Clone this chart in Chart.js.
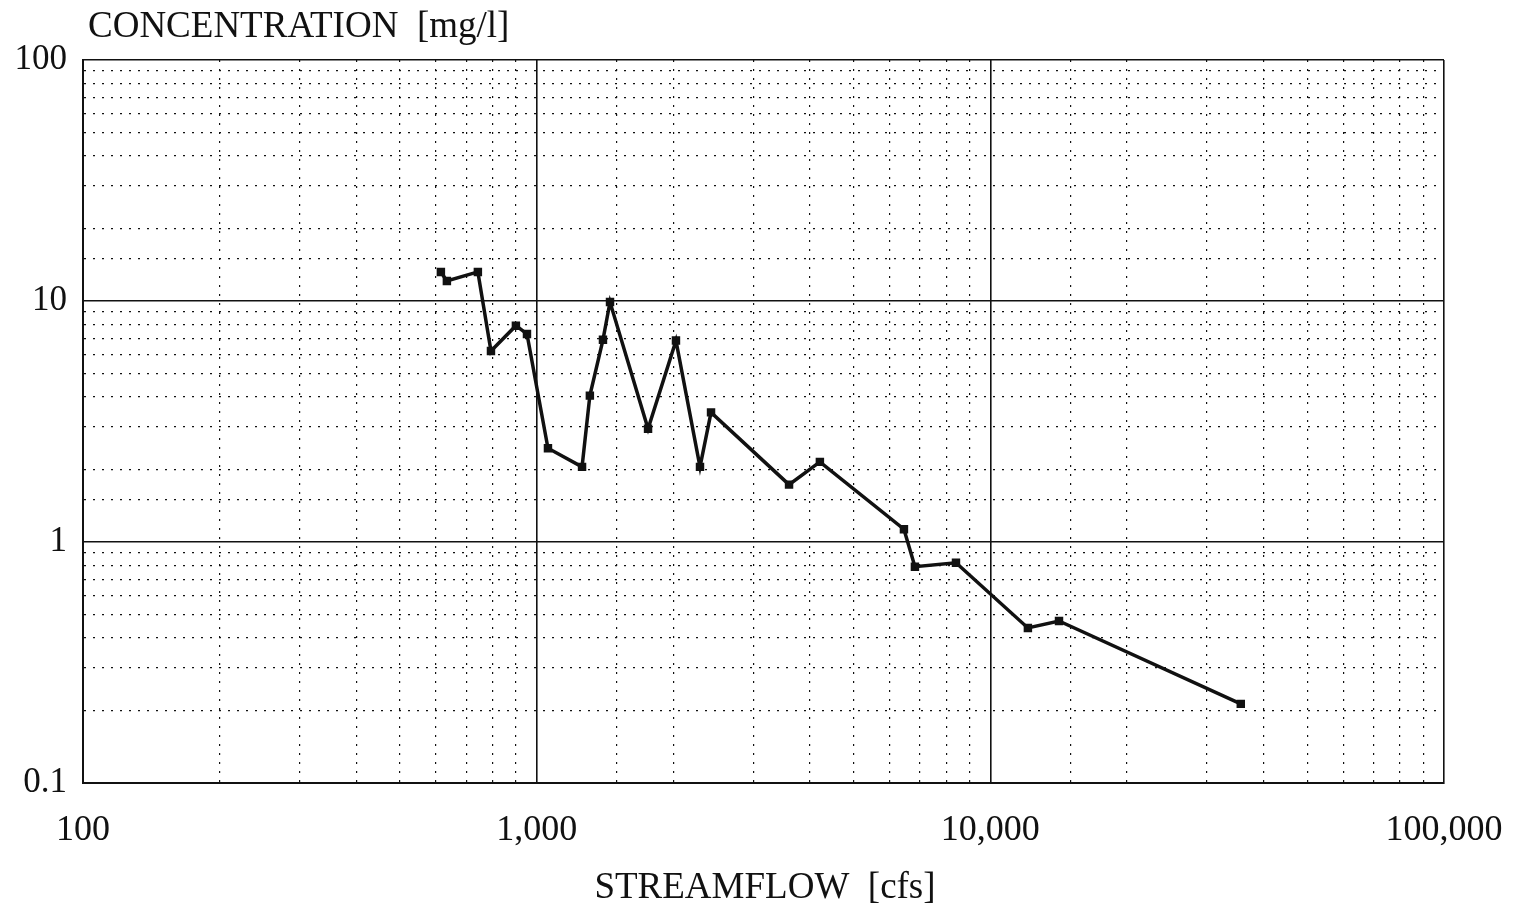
<!DOCTYPE html>
<html>
<head>
<meta charset="utf-8">
<script src="https://cdn.jsdelivr.net/npm/chart.js@4/dist/chart.umd.min.js"></script>
<style>
  html, body { margin: 0; padding: 0; background: #ffffff; }
  canvas { display: block; }
</style>
</head>
<body>
<canvas id="flowChart" width="1514" height="913"></canvas>
<script>
// streamflow (cfs) vs concentration (mg/l)
var streamflow = [615, 634, 742, 793, 900, 952, 1059, 1259, 1310, 1400, 1451, 1760,
  2028, 2291, 2423, 3600, 4210, 6450, 6820, 8400, 12100, 14170, 35650];
var concentration = [13.2, 12.1, 13.2, 6.2, 7.9, 7.3, 2.45, 2.05, 4.05, 6.9, 9.9, 2.95,
  6.85, 2.05, 3.45, 1.73, 2.15, 1.13, 0.79, 0.82, 0.44, 0.47, 0.213];

var xRange = [100, 100000];
var yRange = [0.1, 100];

(function () {
  var font = "'Liberation Serif', 'Times New Roman', serif";
  var ink = "#111111";

  function isDecade(v) {
    var l = Math.log10(v);
    return Math.abs(l - Math.round(l)) < 1e-6;
  }

  function gridWidth(ctx) {
    return ctx.tick && isDecade(ctx.tick.value) ? 1.6 : 1.2;
  }

  function gridDash(ctx) {
    return ctx.tick && isDecade(ctx.tick.value) ? [] : [2, 7];
  }

  var points = streamflow.map(function (x, i) {
    return { x: x, y: concentration[i] };
  });

  var titles = {
    id: "axisTitles",
    afterDraw: function (chart) {
      var c = chart.ctx;
      c.save();
      c.fillStyle = ink;
      c.font = "37px " + font;
      c.textBaseline = "alphabetic";
      c.textAlign = "left";
      c.fillText("CONCENTRATION  [mg/l]", 88, 37);
      c.textAlign = "center";
      c.fillText("STREAMFLOW  [cfs]", 765, 898);
      c.restore();
    }
  };

  new Chart(document.getElementById("flowChart"), {
    type: "line",
    data: {
      datasets: [{
        data: points,
        borderColor: ink,
        backgroundColor: ink,
        borderWidth: 3.5,
        pointStyle: "rect",
        pointRadius: 3.5,
        tension: 0
      }]
    },
    options: {
      responsive: false,
      animation: false,
      layout: { padding: { top: 60, right: 70, left: 0, bottom: 0 } },
      plugins: {
        legend: { display: false },
        tooltip: { enabled: false }
      },
      scales: {
        x: {
          type: "logarithmic",
          min: xRange[0],
          max: xRange[1],
          afterFit: function (scale) {
            scale.height = 130;
            // keep the end labels from shrinking the plot area
            scale.paddingLeft = 0;
            scale.paddingRight = 0;
          },
          grid: { color: ink, lineWidth: gridWidth, drawTicks: false },
          border: { display: true, color: ink, width: 2, dash: gridDash },
          ticks: {
            color: ink,
            font: { family: font, size: 36 },
            padding: 26,
            autoSkip: false,
            maxRotation: 0,
            callback: function (v) {
              return isDecade(v) ? Number(v).toLocaleString("en-US") : "";
            }
          }
        },
        y: {
          type: "logarithmic",
          min: yRange[0],
          max: yRange[1],
          afterFit: function (scale) {
            scale.width = 83;
            scale.paddingTop = 0;
            scale.paddingBottom = 0;
          },
          grid: { color: ink, lineWidth: gridWidth, drawTicks: false },
          border: { display: true, color: ink, width: 2, dash: gridDash },
          ticks: {
            color: ink,
            font: { family: font, size: 35 },
            padding: 16,
            autoSkip: false,
            callback: function (v) {
              return isDecade(v) ? String(Number(v.toPrecision(3))) : "";
            }
          }
        }
      }
    },
    plugins: [titles]
  });
})();
</script>
</body>
</html>
